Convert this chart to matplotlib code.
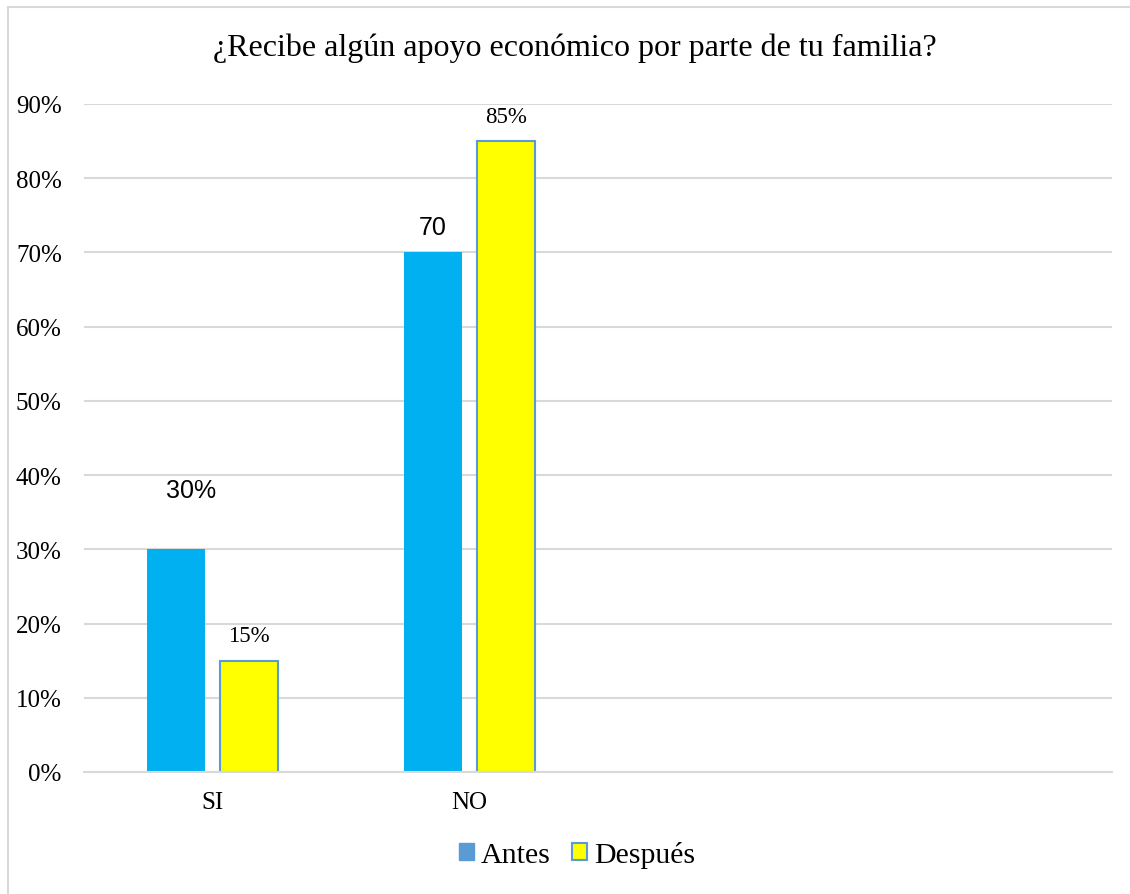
import matplotlib.pyplot as plt
import matplotlib.patches as mpatches
import numpy as np

# Datos de la encuesta
categorias = ["SI", "NO", "", ""]
antes = [0.30, 0.70, 0, 0]
despues = [0.15, 0.85, 0, 0]
etiquetas_antes = ["30%", "70"]
etiquetas_despues = ["15%", "85%"]
yticks = [0, 0.1, 0.2, 0.3, 0.4, 0.5, 0.6, 0.7, 0.8, 0.9]

azul = "#00B0F0"
amarillo = "#FFFF00"
borde = "#5B9BD5"
gris = "#D9D9D9"

fig = plt.figure(figsize=(11.3, 8.95), dpi=100)
ax = fig.add_axes([84 / 1130, 1 - 773 / 895, 1028 / 1130, 668 / 895])

# marco exterior del grafico
fig.patches.append(mpatches.Rectangle((8 / 1130, -0.1), 1.2, 1 - 8 / 895 + 0.1,
                                      transform=fig.transFigure, fill=False,
                                      edgecolor=gris, linewidth=1.5, zorder=0))

x = np.arange(len(categorias))
ancho = 0.226
desp = 0.142
b1 = ax.bar(x[:2] - desp, antes[:2], ancho, color=azul, zorder=3)
b2 = ax.bar(x[:2] + desp, despues[:2], ancho, color=amarillo, edgecolor=borde,
            linewidth=1.5, zorder=3)

ax.set_xlim(-0.5, 3.5)
ax.set_ylim(0, 0.9)
ax.set_yticks(yticks)
ax.set_yticklabels([f"{int(round(t * 100))}%" for t in yticks],
                   fontfamily="Liberation Serif", fontsize=18)
ax.set_xticks(x)
ax.set_xticklabels(categorias, fontfamily="Liberation Serif", fontsize=18)
ax.tick_params(axis="both", length=0)
ax.tick_params(axis="y", pad=16)
ax.tick_params(axis="x", pad=14)
ax.grid(axis="y", color=gris, linewidth=1.5, zorder=0)
for s in ["top", "right", "left"]:
    ax.spines[s].set_visible(False)
ax.spines["bottom"].set_color(gris)
ax.spines["bottom"].set_linewidth(1.5)
ax.spines["bottom"].set_zorder(4)

# etiquetas de datos (algunas movidas a mano)
ax.annotate(etiquetas_antes[0], (x[0] - desp, antes[0]), xytext=(11, 43),
            textcoords="offset points", ha="center", va="center",
            fontfamily="Liberation Sans", fontsize=18)
ax.annotate(etiquetas_antes[1], (x[1] - desp, antes[1]), xytext=(0, 18),
            textcoords="offset points", ha="center", va="center",
            fontfamily="Liberation Sans", fontsize=18)
for i in range(2):
    ax.annotate(etiquetas_despues[i], (x[i] + desp, despues[i]), xytext=(0, 18),
                textcoords="offset points", ha="center", va="center",
                fontfamily="Liberation Serif", fontsize=16.5)

fig.text(575 / 1130, 1 - 48 / 895, "¿Recibe algún apoyo económico por parte de tu familia?",
         ha="center", va="center", fontfamily="Liberation Serif", fontsize=23)

h1 = mpatches.Patch(facecolor=borde, edgecolor=borde, label="Antes")
h2 = mpatches.Patch(facecolor=amarillo, edgecolor=borde, linewidth=1.5, label="Después")
fig.legend(handles=[h1, h2], loc="center", bbox_to_anchor=(577 / 1130, 1 - 856 / 895),
           ncol=2, frameon=False, prop={"family": "Liberation Serif", "size": 21.5},
           handlelength=0.5, handleheight=0.5, handletextpad=0.25, columnspacing=0.7)

fig.savefig("out.png", dpi=100)
